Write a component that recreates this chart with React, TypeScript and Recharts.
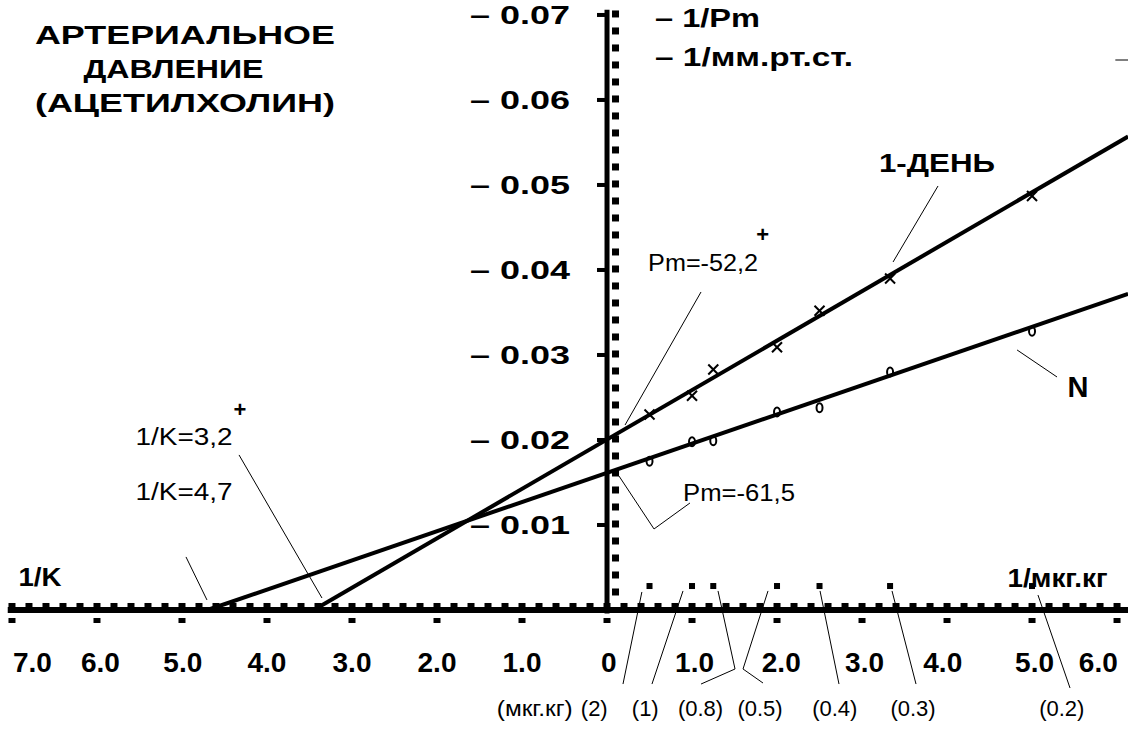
import React from 'react';
import { ScatterChart, XAxis, YAxis, Scatter, ReferenceLine, ReferenceDot } from 'recharts';

// ---------- data ----------
const doseLabels = ['(2)', '(1)', '(0.8)', '(0.5)', '(0.4)', '(0.3)', '(0.2)'];
const recipDose = [0.5, 1.0, 1.25, 2.0, 2.5, 3.33, 5.0];
const day1Values = [0.023, 0.0252, 0.0283, 0.0309, 0.0352, 0.039, 0.0487];
const normValues = [0.0175, 0.0198, 0.0199, 0.0233, 0.0238, 0.028, 0.0328];

const day1FitX = [-3.45, 6.13];
const day1FitY = [0, 0.0557];
const normFitX = [-4.7, 6.13];
const normFitY = [0, 0.0372];

const xTickValues = [-7, -6, -5, -4, -3, -2, -1, 0, 1, 2, 3, 4, 5, 6];
const xTickLabels = ['7.0', '6.0', '5.0', '4.0', '3.0', '2.0', '1.0', '0', '1.0', '2.0', '3.0', '4.0', '5.0', '6.0'];
const xTickLabelPos = [-6.76, -5.96, -4.99, -4.0, -3.0, -2.0, -1.0, 0.02, 1.03, 2.05, 3.03, 3.95, 5.03, 5.78];
const yTickValues = [0.01, 0.02, 0.03, 0.04, 0.05, 0.06, 0.07];
const yTickLabels = ['0.01', '0.02', '0.03', '0.04', '0.05', '0.06', '0.07'];

// minor tick positions (axis decoration)
const xMinorTicks = Array.from({ length: 67 }, (_, i) => Math.round((-7 + i * 0.2) * 100) / 100);
const yMinorTicks = Array.from({ length: 35 }, (_, i) => Math.round((0.002 + i * 0.002) * 10000) / 10000);

const X_DOMAIN: [number, number] = [-7.141, 6.129];
const Y_DOMAIN: [number, number] = [-0.014, 0.07176];

const DOSE_MARK_Y = 0.00282;
const X_LABEL_Y = -0.00612;
const DOSE_LABEL_Y = -0.01153;
const doseLabelPos = [-0.15, 0.45, 1.1, 1.8, 2.68, 3.6, 5.35];

// annotation texts: [text, x, y, size, bold, anchor, textLength]
type Ann = [string, number, number, number, boolean, 'start' | 'middle' | 'end', number?];
const annotations: Ann[] = [
  ['АРТЕРИАЛЬНОЕ', -4.965, 0.06765, 25, true, 'middle', 300],
  ['ДАВЛЕНИЕ', -5.1, 0.06365, 25, true, 'middle', 180],
  ['(АЦЕТИЛХОЛИН)', -4.965, 0.05965, 25, true, 'middle', 300],
  ['– 1/Pm', 0.565, 0.0697, 26, true, 'start', 105],
  ['– 1/мм.рт.ст.', 0.565, 0.06506, 26, true, 'start', 198],
  ['1-ДЕНЬ', 3.882, 0.05259, 26, true, 'middle', 116],
  ['N', 5.541, 0.02624, 29, true, 'middle'],
  ['Pm=-52,2', 1.13, 0.04082, 23, false, 'middle', 110],
  ['+', 1.83, 0.0442, 22, true, 'middle'],
  ['Pm=-61,5', 1.553, 0.01376, 23, false, 'middle', 112],
  ['1/K=3,2', -4.976, 0.02035, 23, false, 'middle', 97],
  ['+', -4.318, 0.02353, 22, true, 'middle'],
  ['1/K=4,7', -4.976, 0.01388, 23, false, 'middle', 97],
  ['1/K', -6.671, 0.00388, 26, true, 'middle', 43],
  ['1/мкг.кг', 5.3, 0.00376, 26, true, 'middle', 100],
  ['(мкг.кг)', -0.85, DOSE_LABEL_Y, 22, false, 'middle', 76],
];

// leader lines: [x1, y1, x2, y2]
const leaders: [number, number, number, number][] = [
  [3.894, 0.04988, 3.365, 0.04094],
  [5.294, 0.02741, 4.824, 0.03059],
  [1.106, 0.03741, 0.212, 0.02176],
  [0.141, 0.01576, 0.553, 0.00953],
  [0.553, 0.00953, 0.976, 0.01259],
  [-4.329, 0.01824, -3.353, 0.00141],
  [-4.953, 0.00624, -4.706, 0.00118],
  // dose leaders
  [0.41, 0.00212, 0.188, -0.00871],
  [0.894, 0.00224, 0.529, -0.00871],
  [1.306, 0.00224, 1.506, -0.00694],
  [1.506, -0.00694, 1.106, -0.00871],
  [1.894, 0.00224, 1.6, -0.00694],
  [1.6, -0.00694, 1.835, -0.00859],
  [2.506, 0.00224, 2.729, -0.00871],
  [3.353, 0.00224, 3.635, -0.00871],
  [5.07, 0.00176, 5.447, -0.00918],
  // stray mark top right
  [5.98, 0.0647, 6.129, 0.0647],
];

const FONT = '"Liberation Sans", Arial, Helvetica, sans-serif';

const day1Points = recipDose.map((x, i) => ({ x, y: day1Values[i] }));
const normPoints = recipDose.map((x, i) => ({ x, y: normValues[i] }));
const day1Fit = day1FitX.map((x, i) => ({ x, y: day1FitY[i] }));
const normFit = normFitX.map((x, i) => ({ x, y: normFitY[i] }));
const xMinorData = xMinorTicks.map((x) => ({ x, y: 0 }));
const xMajorData = xTickValues.map((x) => ({ x, y: 0 }));
const yMinorData = yMinorTicks.map((y) => ({ x: 0, y }));
const yMajorData = yTickValues.map((y) => ({ x: 0, y }));
const doseMarkData = recipDose.map((x) => ({ x, y: DOSE_MARK_Y }));

const XShape = (p: any) => (
  <g>
    <line x1={p.cx - 5} y1={p.cy - 5} x2={p.cx + 5} y2={p.cy + 5} stroke="#000" strokeWidth={2} />
    <line x1={p.cx - 5} y1={p.cy + 5} x2={p.cx + 5} y2={p.cy - 5} stroke="#000" strokeWidth={2} />
  </g>
);
const OShape = (p: any) => (
  <ellipse cx={p.cx} cy={p.cy} rx={3} ry={4.5} fill="none" stroke="#000" strokeWidth={2} />
);
const NoShape = () => <g />;
const xMinorShape = (p: any) => <rect x={p.cx - 3.5} y={p.cy - 7} width={7} height={4} fill="#000" />;
const xMajorShape = (p: any) => <rect x={p.cx - 3.5} y={p.cy + 8} width={7} height={5} fill="#000" />;
const yMinorShape = (p: any) => <rect x={p.cx + 5} y={p.cy - 4.5} width={7} height={7} fill="#000" />;
const yMajorShape = (p: any) => <rect x={p.cx - 10} y={p.cy - 2} width={8} height={4} fill="#000" />;
const doseShape = (p: any) => <rect x={p.cx - 3} y={p.cy - 3} width={6} height={6} fill="#000" />;

const textShape = (text: string, size: number, bold: boolean, anchor: string, len?: number) => (p: any) => (
  <text
    x={p.cx}
    y={p.cy}
    fontFamily={FONT}
    fontSize={size}
    fontWeight={bold ? 700 : 400}
    textAnchor={anchor}
    dominantBaseline="central"
    fill="#000"
    {...(len ? { textLength: len, lengthAdjust: 'spacingAndGlyphs' } : {})}
  >
    {text}
  </text>
);

export default function App() {
  return (
    <div style={{ position: 'absolute', left: 0, top: 0, width: 1128, height: 729, background: '#fff' }}>
      <ScatterChart width={1128} height={729} margin={{ top: 0, right: 0, bottom: 0, left: 0 }}>
        <XAxis type="number" dataKey="x" domain={X_DOMAIN} allowDataOverflow hide />
        <YAxis type="number" dataKey="y" domain={Y_DOMAIN} allowDataOverflow hide />

        {/* axes */}
        <ReferenceLine segment={[{ x: -7.05, y: 0 }, { x: 6.129, y: 0 }]} stroke="#000" strokeWidth={6} />
        <ReferenceLine segment={[{ x: 0, y: -0.0004 }, { x: 0, y: 0.0706 }]} stroke="#000" strokeWidth={5} />

        <Scatter data={xMinorData} shape={xMinorShape} isAnimationActive={false} />
        <Scatter data={xMajorData} shape={xMajorShape} isAnimationActive={false} />
        <Scatter data={yMinorData} shape={yMinorShape} isAnimationActive={false} />
        <Scatter data={yMajorData} shape={yMajorShape} isAnimationActive={false} />
        <Scatter data={doseMarkData} shape={doseShape} isAnimationActive={false} />

        {/* fitted lines */}
        <Scatter data={day1Fit} line={{ stroke: '#000', strokeWidth: 4 }} shape={NoShape} isAnimationActive={false} />
        <Scatter data={normFit} line={{ stroke: '#000', strokeWidth: 4 }} shape={NoShape} isAnimationActive={false} />

        {/* data markers */}
        <Scatter data={day1Points} shape={XShape} isAnimationActive={false} />
        <Scatter data={normPoints} shape={OShape} isAnimationActive={false} />

        {/* leader lines */}
        {leaders.map((l, i) => (
          <ReferenceLine key={'ld' + i} segment={[{ x: l[0], y: l[1] }, { x: l[2], y: l[3] }]} stroke="#000" strokeWidth={1} />
        ))}

        {/* y tick labels */}
        {yTickValues.map((v, i) => (
          <ReferenceDot key={'yl' + i} x={-0.435} y={v} r={0} shape={textShape('– ' + yTickLabels[i], 26, true, 'end', 100)} />
        ))}
        {/* x tick labels */}
        {xTickLabels.map((t, i) => (
          <ReferenceDot key={'xl' + i} x={xTickLabelPos[i]} y={X_LABEL_Y} r={0} shape={textShape(t, 28, true, 'middle')} />
        ))}
        {/* dose labels */}
        {doseLabels.map((t, i) => (
          <ReferenceDot key={'dl' + i} x={doseLabelPos[i]} y={DOSE_LABEL_Y} r={0} shape={textShape(t, 22, false, 'middle')} />
        ))}
        {annotations.map((a, i) => (
          <ReferenceDot key={'an' + i} x={a[1]} y={a[2]} r={0} shape={textShape(a[0], a[3], a[4], a[5], a[6])} />
        ))}
      </ScatterChart>
    </div>
  );
}
